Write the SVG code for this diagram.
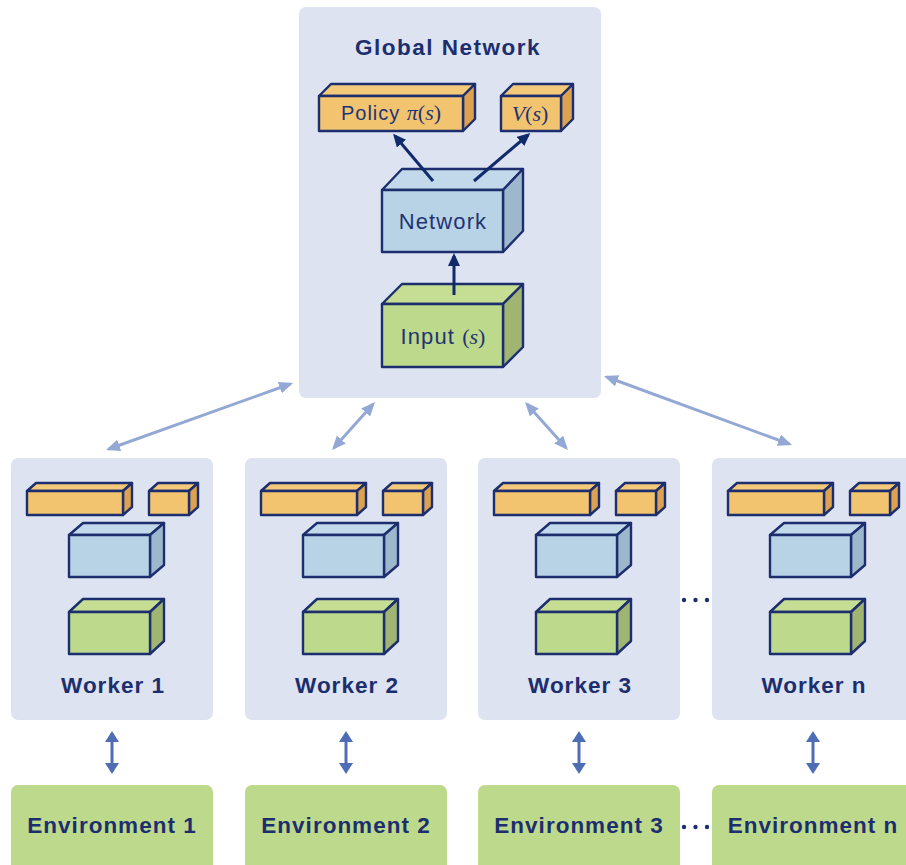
<svg xmlns="http://www.w3.org/2000/svg" xmlns:xlink="http://www.w3.org/1999/xlink" width="906" height="865" viewBox="0 0 906 865">
<style>
.panel{fill:#dde3f1}
.env{fill:#bdd98b}
.bx{stroke:#1c2e6e;stroke-width:2.4;stroke-linejoin:round}
.of{fill:#f2c46f}.ot{fill:#f4ca7a}.os{fill:#dca24f}
.bf{fill:#b9d3e6}.bt{fill:#c1d9ea}.bs{fill:#9db8cd}
.gf{fill:#bdd98b}.gt{fill:#c6de93}.gs{fill:#a1b572}
.lbl{font-family:"Liberation Sans",Arial,sans-serif;font-weight:bold;font-size:22.5px;fill:#1c2e6e;text-anchor:middle;letter-spacing:1px}
.txt{font-family:"Liberation Sans",Arial,sans-serif;font-size:22px;fill:#1f3473;text-anchor:middle;letter-spacing:1.1px}
.math{font-family:"Liberation Serif","Times New Roman",serif;letter-spacing:0}
.la{stroke:#93a8d4;stroke-width:3;fill:none}
.va{stroke:#4e6db4;stroke-width:3;fill:none}
.da{stroke:#102a6b;stroke-width:3;fill:none}
.dot{fill:#1c2e6e}
</style>
<defs>
<marker id="mLight" markerUnits="userSpaceOnUse" markerWidth="16" markerHeight="14" refX="11" refY="6" orient="auto-start-reverse" viewBox="0 0 16 14">
<path d="M0,0 L14,6 L0,12 Z" fill="#93a8d4"/>
</marker>
<marker id="mVert" markerUnits="userSpaceOnUse" markerWidth="14" markerHeight="16" refX="8" refY="7" orient="auto-start-reverse" viewBox="0 0 14 16">
<path d="M0,0 L11,7 L0,14 Z" fill="#4e6db4"/>
</marker>
<marker id="mDark" markerUnits="userSpaceOnUse" markerWidth="14" markerHeight="14" refX="10" refY="6" orient="auto" viewBox="0 0 14 14">
<path d="M0,0 L13,6 L0,12 Z" fill="#102a6b"/>
</marker>
<g id="workerBoxes">
<polygon class="bx ot" points="16,491 25,483 121,483 112,491"/>
<polygon class="bx os" points="112,491 121,483 121,507 112,515"/>
<rect class="bx of" x="16" y="491" width="96" height="24"/>
<polygon class="bx ot" points="138,491 147,483 187,483 178,491"/>
<polygon class="bx os" points="178,491 187,483 187,507 178,515"/>
<rect class="bx of" x="138" y="491" width="40" height="24"/>
<polygon class="bx bt" points="58,535 72,523 153,523 139,535"/>
<polygon class="bx bs" points="139,535 153,523 153,565 139,577"/>
<rect class="bx bf" x="58" y="535" width="81" height="42"/>
<polygon class="bx gt" points="58,612 72,599 153,599 139,612"/>
<polygon class="bx gs" points="139,612 153,599 153,641 139,654"/>
<rect class="bx gf" x="58" y="612" width="81" height="42"/>
</g>
</defs>

<g id="global-network">
<rect class="panel" x="299" y="7" width="302" height="391" rx="7"/>
<text class="lbl" x="448" y="55" style="letter-spacing:1.5px">Global Network</text>
<g id="policy">
<polygon class="bx ot" points="319,96 331,84 475,84 463,96"/>
<polygon class="bx os" points="463,96 475,84 475,119 463,131"/>
<rect class="bx of" x="319" y="96" width="144" height="35"/>
<text class="txt" x="391" y="120" style="font-size:20px"><tspan style="letter-spacing:1px">Policy </tspan><tspan class="math" font-style="italic" style="font-size:22px">π</tspan><tspan class="math" style="font-size:22px">(</tspan><tspan class="math" font-style="italic" style="font-size:22px">s</tspan><tspan class="math" style="font-size:22px">)</tspan></text>
</g>
<g id="value">
<polygon class="bx ot" points="501,96 513,84 573,84 561,96"/>
<polygon class="bx os" points="561,96 573,84 573,119 561,131"/>
<rect class="bx of" x="501" y="96" width="60" height="35"/>
<text class="txt" x="530" y="121" style="letter-spacing:0"><tspan class="math" font-style="italic">V</tspan><tspan class="math">(</tspan><tspan class="math" font-style="italic">s</tspan><tspan class="math">)</tspan></text>
</g>
<g id="network">
<polygon class="bx bt" points="382,190 402,169 523,169 503,190"/>
<polygon class="bx bs" points="503,190 523,169 523,231 503,252"/>
<rect class="bx bf" x="382" y="190" width="121" height="62"/>
<text class="txt" x="443" y="229">Network</text>
</g>
<g id="input">
<polygon class="bx gt" points="382,304 402,284 523,284 503,304"/>
<polygon class="bx gs" points="503,304 523,284 523,347 503,367"/>
<rect class="bx gf" x="382" y="304" width="121" height="63"/>
<text class="txt" x="443" y="344"><tspan>Input </tspan><tspan class="math">(</tspan><tspan class="math" font-style="italic">s</tspan><tspan class="math">)</tspan></text>
</g>
</g>

<g id="worker-1">
<rect class="panel" x="11" y="458" width="202" height="262" rx="7"/>
<use xlink:href="#workerBoxes" href="#workerBoxes" x="11"/>
<text class="lbl" x="113" y="693">Worker 1</text>
</g>
<g id="worker-2">
<rect class="panel" x="245" y="458" width="202" height="262" rx="7"/>
<use xlink:href="#workerBoxes" href="#workerBoxes" x="245"/>
<text class="lbl" x="347" y="693">Worker 2</text>
</g>
<g id="worker-3">
<rect class="panel" x="478" y="458" width="202" height="262" rx="7"/>
<use xlink:href="#workerBoxes" href="#workerBoxes" x="478"/>
<text class="lbl" x="580" y="693">Worker 3</text>
</g>
<g id="worker-n">
<rect class="panel" x="712" y="458" width="202" height="262" rx="7"/>
<use xlink:href="#workerBoxes" href="#workerBoxes" x="712"/>
<text class="lbl" x="814" y="693">Worker n</text>
</g>

<g id="env-1">
<rect class="env" x="11" y="785" width="202" height="95" rx="7"/>
<text class="lbl" x="112" y="833">Environment 1</text>
</g>
<g id="env-2">
<rect class="env" x="245" y="785" width="202" height="95" rx="7"/>
<text class="lbl" x="346" y="833">Environment 2</text>
</g>
<g id="env-3">
<rect class="env" x="478" y="785" width="202" height="95" rx="7"/>
<text class="lbl" x="579" y="833">Environment 3</text>
</g>
<g id="env-n">
<rect class="env" x="712" y="785" width="202" height="95" rx="7"/>
<text class="lbl" x="813" y="833">Environment n</text>
</g>

<g id="ellipses">
<circle class="dot" cx="684" cy="600" r="2.2"/><circle class="dot" cx="695.5" cy="600" r="2.2"/><circle class="dot" cx="707" cy="600" r="2.2"/>
<circle class="dot" cx="684" cy="827" r="2.2"/><circle class="dot" cx="695.5" cy="827" r="2.2"/><circle class="dot" cx="707" cy="827" r="2.2"/>
</g>

<g id="connectors">
<line class="da" x1="454" y1="295" x2="454" y2="256" marker-end="url(#mDark)"/>
<line class="da" x1="433" y1="181" x2="395" y2="136" marker-end="url(#mDark)"/>
<line class="da" x1="474" y1="181" x2="528" y2="135" marker-end="url(#mDark)"/>
<line class="la" x1="108.8" y1="449" x2="290.2" y2="384" marker-start="url(#mLight)" marker-end="url(#mLight)"/>
<line class="la" x1="373" y1="404.2" x2="334" y2="447.8" marker-start="url(#mLight)" marker-end="url(#mLight)"/>
<line class="la" x1="527" y1="404.2" x2="566" y2="447.8" marker-start="url(#mLight)" marker-end="url(#mLight)"/>
<line class="la" x1="606.8" y1="377" x2="789.2" y2="444" marker-start="url(#mLight)" marker-end="url(#mLight)"/>
<line class="va" x1="112" y1="734" x2="112" y2="771" marker-start="url(#mVert)" marker-end="url(#mVert)"/>
<line class="va" x1="346" y1="734" x2="346" y2="771" marker-start="url(#mVert)" marker-end="url(#mVert)"/>
<line class="va" x1="579" y1="734" x2="579" y2="771" marker-start="url(#mVert)" marker-end="url(#mVert)"/>
<line class="va" x1="813" y1="734" x2="813" y2="771" marker-start="url(#mVert)" marker-end="url(#mVert)"/>
</g>
</svg>
